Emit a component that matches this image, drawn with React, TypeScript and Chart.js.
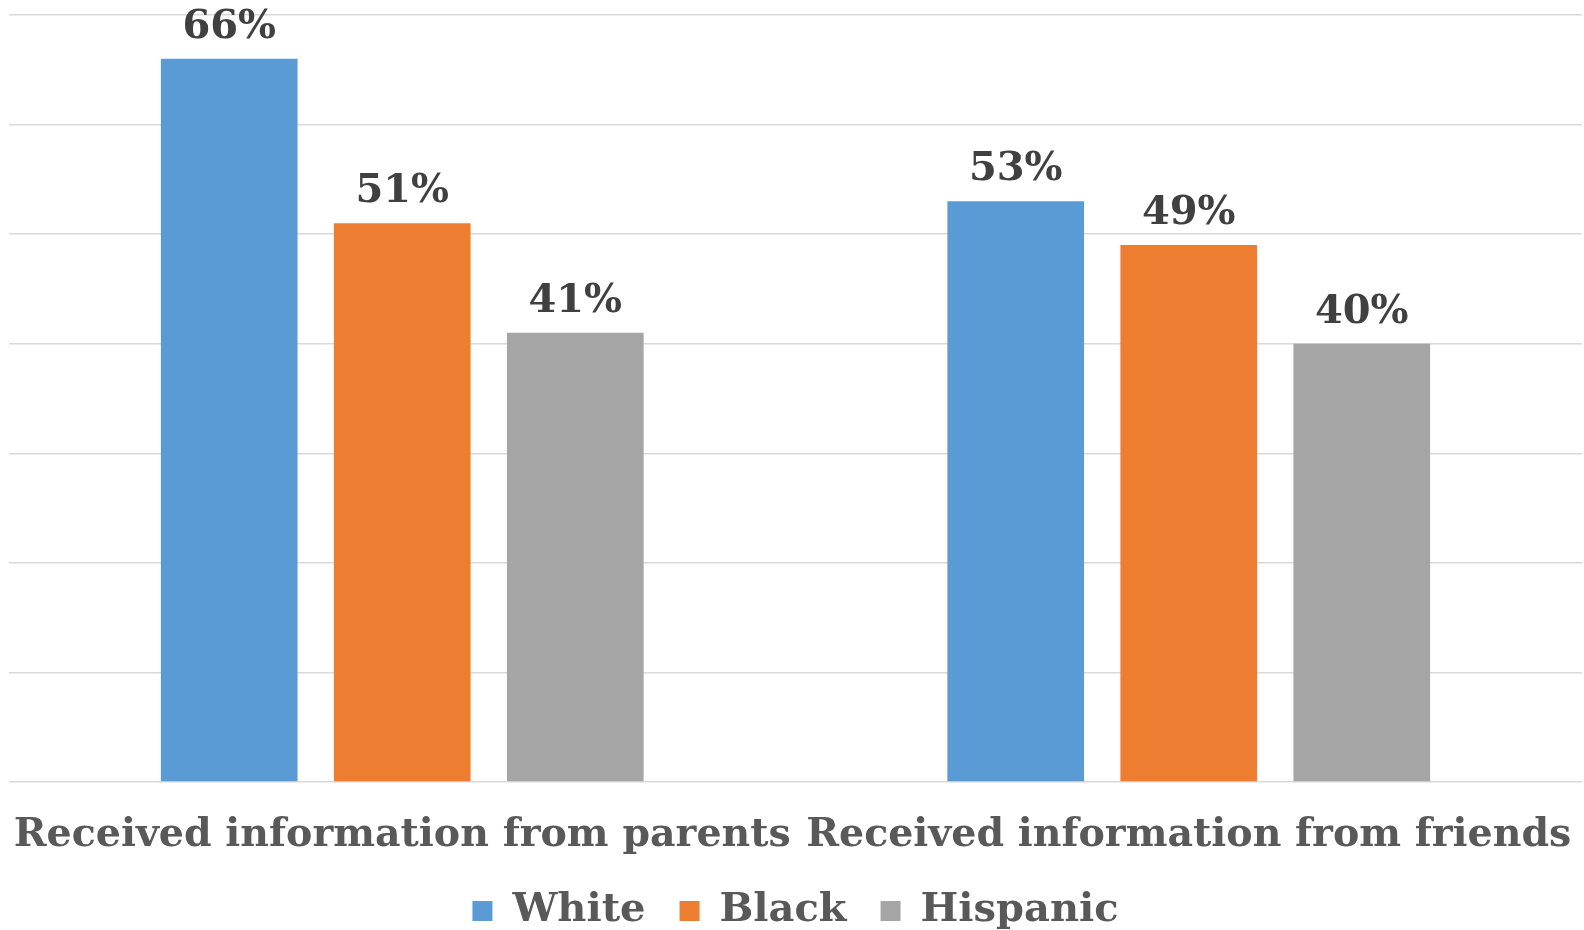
import React, { useEffect, useRef } from "react";
import { Chart, registerables } from "chart.js";

Chart.register(...registerables);

const categories = ["Received information from parents", "Received information from friends"];
const seriesNames = ["White", "Black", "Hispanic"];
const whiteValues = [66, 53];
const blackValues = [51, 49];
const hispanicValues = [41, 40];
const seriesColors = ["#5B9BD5", "#ED7D31", "#A5A5A5"];
const yTicks = [0, 10, 20, 30, 40, 50, 60, 70];

const FONT = "'DejaVu Serif', serif";

const dataLabelPlugin = {
  id: "dataLabels",
  afterDatasetsDraw(chart: any) {
    const ctx = chart.ctx;
    ctx.save();
    ctx.font = `bold 40px ${FONT}`;
    ctx.fillStyle = "#404040";
    ctx.textAlign = "center";
    ctx.textBaseline = "alphabetic";
    chart.data.datasets.forEach((ds: any, i: number) => {
      const meta = chart.getDatasetMeta(i);
      meta.data.forEach((el: any, j: number) => {
        ctx.fillText(`${ds.data[j]}%`, el.x, el.y - 21);
      });
    });
    ctx.restore();
  },
};

export default function App() {
  const ref = useRef<HTMLCanvasElement | null>(null);
  useEffect(() => {
    document.body.style.margin = "0";
    const values = [whiteValues, blackValues, hispanicValues];
    const chart = new Chart(ref.current!, {
      type: "bar",
      data: {
        labels: categories,
        datasets: seriesNames.map((name, i) => ({
          label: name,
          data: values[i],
          backgroundColor: seriesColors[i],
          borderWidth: 0,
          categoryPercentage: 0.66,
          barPercentage: 0.79,
        })),
      },
      options: {
        animation: false,
        responsive: false,
        devicePixelRatio: 1,
        layout: { padding: { left: 9, right: 2, top: 15, bottom: -11 } },
        scales: {
          x: {
            grid: { display: false, drawTicks: false },
            border: { display: false },
            afterFit: (scale: any) => {
              scale.paddingLeft = 0;
              scale.paddingRight = 0;
              scale.height = 75;
            },
            ticks: {
              font: { family: FONT, size: 39.5, weight: "bold", lineHeight: 0.01 },
              color: "#595959",
              maxRotation: 0,
              minRotation: 0,
              autoSkip: false,
              padding: 54,
            },
          },
          y: {
            min: yTicks[0],
            max: yTicks[yTicks.length - 1],
            afterBuildTicks: (axis: any) => {
              axis.ticks = yTicks.map((v) => ({ value: v }));
            },
            ticks: { display: false },
            border: { display: false },
            grid: { color: "#D9D9D9", lineWidth: 1.5, drawTicks: false },
          },
        },
        plugins: {
          legend: {
            position: "bottom",
            maxHeight: 84,
            labels: {
              font: { family: FONT, size: 40, weight: "bold" },
              color: "#595959",
              boxWidth: 20,
              boxHeight: 20,
              padding: 34,
            },
          },
          tooltip: { enabled: false },
        },
      },
      plugins: [dataLabelPlugin],
    } as any);
    return () => chart.destroy();
  }, []);
  return (
    <div style={{ width: 1584, height: 930 }}>
      <canvas ref={ref} width={1584} height={930} />
    </div>
  );
}
